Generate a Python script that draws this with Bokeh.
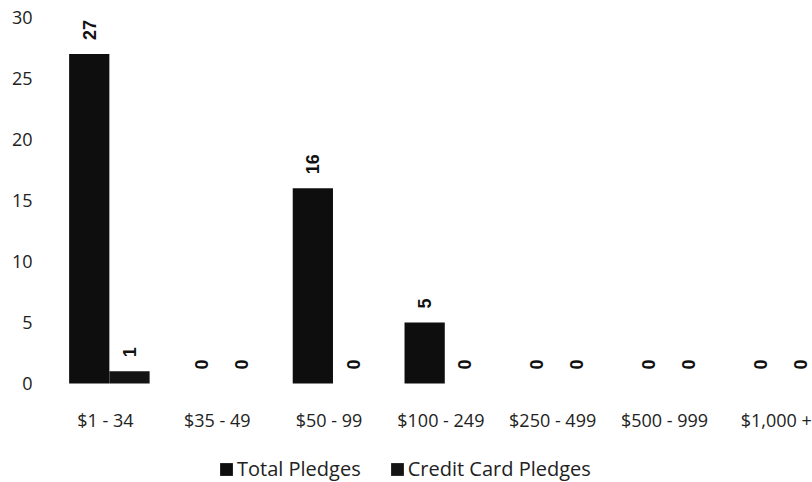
import math
from bokeh.plotting import figure
from bokeh.models import Range1d, FixedTicker, ColumnDataSource, Legend, LegendItem
from bokeh.embed import file_html
from bokeh.resources import INLINE
from bokeh.core.properties import value

categories = ["$1 - 34", "$35 - 49", "$50 - 99", "$100 - 249", "$250 - 499", "$500 - 999", "$1,000 +"]
total_pledges = [27, 0, 16, 5, 0, 0, 0]
credit_card_pledges = [1, 0, 0, 0, 0, 0, 0]
y_ticks = [0, 5, 10, 15, 20, 25, 30]
series_names = ["Total Pledges", "Credit Card Pledges"]

idx = list(range(len(categories)))
off_t = -0.145
off_c = 0.215
bw = 0.36

src_t = ColumnDataSource(dict(x=[i + off_t for i in idx], top=total_pledges,
                              lab=[str(v) for v in total_pledges]))
src_c = ColumnDataSource(dict(x=[i + off_c for i in idx], top=credit_card_pledges,
                              lab=[str(v) for v in credit_card_pledges]))

p = figure(width=812, height=482, output_backend="svg", toolbar_location=None,
           x_range=Range1d(-0.581, 6.324), y_range=Range1d(-8.11, 30),
           min_border_left=40, min_border_right=0, min_border_top=17, min_border_bottom=0)
p.outline_line_color = None
p.grid.visible = False
p.background_fill_color = "white"

r_t = p.vbar(x="x", top="top", width=bw, bottom=0, source=src_t,
             fill_color="#0e0e0e", line_color=None)
r_c = p.vbar(x="x", top="top", width=bw, bottom=0, source=src_c,
             fill_color="#141414", line_color=None)

for s in (src_t, src_c):
    p.text(x="x", y="top", text="lab", source=s, angle=math.pi / 2,
           text_align="left", text_baseline="middle", y_offset=-14,
           text_font=value("Liberation Sans"), text_font_style="bold",
           text_font_size="18px", text_color="#111111")

# y axis
p.yaxis.ticker = FixedTicker(ticks=y_ticks)
p.yaxis.axis_line_color = None
p.yaxis.major_tick_line_color = None
p.yaxis.minor_tick_line_color = None
p.yaxis.major_tick_out = 0
p.yaxis.major_label_standoff = 8
p.yaxis.major_label_text_font = "Open Sans"
p.yaxis.major_label_text_font_size = "18px"
p.yaxis.major_label_text_color = "#222222"

# x axis, drawn at y = 0 inside the frame
p.xaxis.fixed_location = 0
p.xaxis.ticker = FixedTicker(ticks=idx)
p.xaxis.major_label_overrides = {i: c for i, c in zip(idx, categories)}
p.xaxis.axis_line_color = None
p.xaxis.major_tick_line_color = None
p.xaxis.minor_tick_line_color = None
p.xaxis.major_tick_out = 0
p.xaxis.major_label_standoff = 24
p.xaxis.major_label_text_font = "Open Sans"
p.xaxis.major_label_text_font_size = "18px"
p.xaxis.major_label_text_color = "#222222"

legend = Legend(items=[LegendItem(label=series_names[0], renderers=[r_t]),
                       LegendItem(label=series_names[1], renderers=[r_c])],
                orientation="horizontal", location=(178, 0),
                label_text_font="Open Sans", label_text_font_size="20px",
                label_text_color="#222222", glyph_width=16, glyph_height=16,
                spacing=28, padding=0, margin=0, label_standoff=3,
                border_line_color=None, background_fill_alpha=0)
p.add_layout(legend, "center")

open("out.html", "w").write(file_html(p, INLINE))
